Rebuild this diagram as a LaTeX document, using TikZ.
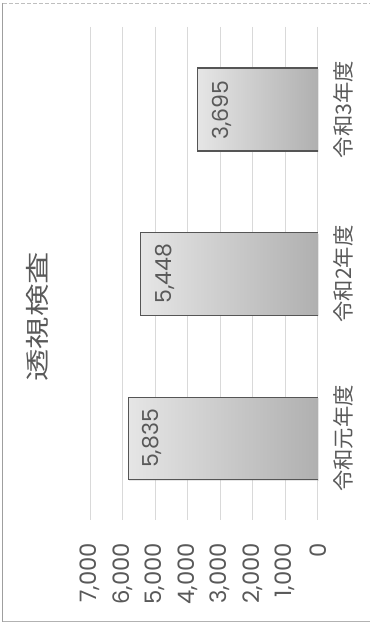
\documentclass[tikz,border=0pt]{standalone}
\usepackage{fontspec}
\newfontfamily\jpfont{Noto Sans CJK JP}
\newfontfamily\chiffres{Poppins}
\usetikzlibrary{shadows}
\definecolor{gristexte}{HTML}{595959}
\definecolor{grisgrille}{HTML}{D9D9D9}
\definecolor{grisbord}{HTML}{555555}
\begin{document}
\begin{tikzpicture}[x=0.75pt,y=-0.75pt]
    \tikzset{grille/.style={grisgrille, line width=0.9pt}}
    \tikzset{barre/.style={left color=gray!20, right color=gray!62, drop shadow={opacity=0.2, shadow xshift=0.8pt, shadow yshift=-0.8pt}}}
    \tikzset{bord/.style={grisbord, line width=0.9pt}}
    \tikzset{texte/.style={rotate=90, inner sep=0pt, text=gristexte}}
    \tikzset{graduation/.style={texte, anchor=east, font=\chiffres\fontsize{17}{17}\selectfont}}
    \tikzset{valeur/.style={texte, font=\chiffres\fontsize{16.5}{16.5}\selectfont}}
    \tikzset{categorie/.style={texte, font=\jpfont\fontsize{16}{16}\selectfont}}
    \useasboundingbox (0,0) rectangle (370,623);
    % cadre
    \draw[gray!50, dash pattern=on 3pt off 1.5pt, line width=0.8pt] (3,3.3) -- (370,3.3);
    \draw[gray!75, line width=1.2pt] (2.5,3) -- (2.5,622);
    \draw[gray!60, line width=1pt] (2.5,621.8) -- (370,621.8);
    % grille
    \draw[grille] (317.7,27) -- (317.7,520);
    \draw[grille] (285.2,27) -- (285.2,520);
    \draw[grille] (252.7,27) -- (252.7,520);
    \draw[grille] (220.2,27) -- (220.2,520);
    \draw[grille] (187.7,27) -- (187.7,520);
    \draw[grille] (155.2,27) -- (155.2,520);
    \draw[grille] (122.7,27) -- (122.7,520);
    \draw[grille] (90.2,27) -- (90.2,520);
    % barres
    \shade[barre] (197.6,68) rectangle (317.7,151);
    \draw[bord] (317.7,68) -- (197.6,68) -- (197.6,151) -- (317.7,151);
    \shade[barre] (140.6,232.7) rectangle (317.7,315.3);
    \draw[bord] (317.7,232.7) -- (140.6,232.7) -- (140.6,315.3) -- (317.7,315.3);
    \shade[barre] (128.1,397.3) rectangle (317.7,479.5);
    \draw[bord] (317.7,397.3) -- (128.1,397.3) -- (128.1,479.5) -- (317.7,479.5);
    % valeurs
    \node[valeur] (v3) at (221.5,110) {3,695};
    \node[valeur] (v2) at (165,273.5) {5,448};
    \node[valeur] (v1) at (152,438.5) {5,835};
    % categories
    \node[categorie] (c3) at (343.5,109.5) {令和3年度};
    \node[categorie] (c2) at (343.5,274) {令和2年度};
    \node[categorie] (c1) at (343.5,438.4) {令和元年度};
    % graduations
    \node[graduation] (g0) at (317.7,543) {0};
    \node[graduation] (g1) at (285.2,543) {1,000};
    \node[graduation] (g2) at (252.7,543) {2,000};
    \node[graduation] (g3) at (220.2,543) {3,000};
    \node[graduation] (g4) at (187.7,543) {4,000};
    \node[graduation] (g5) at (155.2,543) {5,000};
    \node[graduation] (g6) at (122.7,543) {6,000};
    \node[graduation] (g7) at (90.2,543) {7,000};
    % titre
    \node[texte, font=\jpfont\fontsize{18}{18}\selectfont] (titre) at (37.5,316.7) {\scalebox{1.35}[1]{透視検査}};
\end{tikzpicture}
\end{document}
